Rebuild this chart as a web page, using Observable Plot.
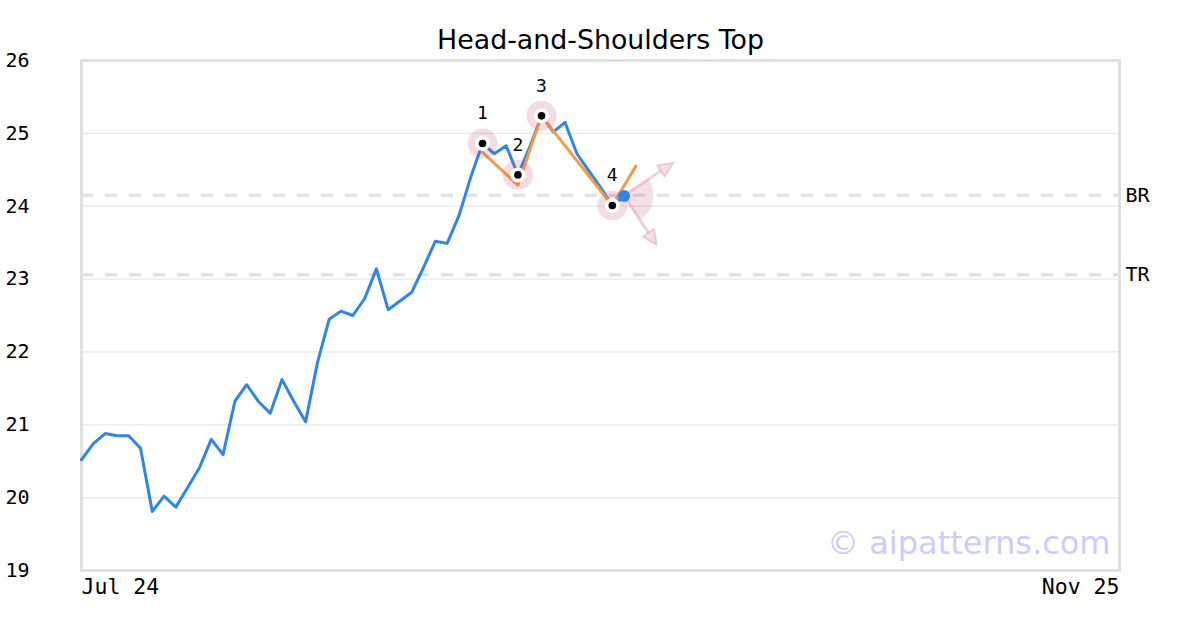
<!DOCTYPE html>
<html><head><meta charset="utf-8">
<script src="https://cdn.jsdelivr.net/npm/d3@7"></script>
<script src="https://cdn.jsdelivr.net/npm/@observablehq/plot@0.6"></script>
<style>body{margin:0;background:#fff;} #chart{width:1200px;height:630px;}</style>
</head><body><div id="chart"></div>
<script>
// ---- data ----
const prices = [20.52, 20.74, 20.88, 20.85, 20.85, 20.68, 19.81, 20.02, 19.87, 20.14,
  20.41, 20.80, 20.59, 21.32, 21.55, 21.32, 21.16, 21.62, 21.32, 21.04,
  21.85, 22.45, 22.56, 22.50, 22.73, 23.14, 22.58, 22.70, 22.82, 23.16,
  23.52, 23.49, 23.87, 24.40, 24.86, 24.72, 24.83, 24.43, 24.81, 25.24,
  25.02, 25.15, 24.72, 24.49, 24.26, 24.01, 24.14];
const pivotIdx = [34, 37, 39, 45];
const pivotLabels = ["1", "2", "3", "4"];
const zigIdx = [34, 37, 39, 45, 47];
const zigVals = [24.74, 24.29, 25.24, 24.01, 24.55];
const levelNames = ["BR", "TR"];
const levelVals = [24.15, 23.06];
const yTicks = [19, 20, 21, 22, 23, 24, 25, 26];
const gridTicks = [20, 21, 22, 23, 24, 25];
const xDomain = [0, 88];
const xTickPos = [0, 88];
const xTickLabels = ["Jul 24", "Nov 25"];
const arrowEndIdx = [50.22, 48.81];
const arrowEndVals = [24.59, 23.46];
const titleText = "Head-and-Shoulders Top";
const watermark = "© aipatterns.com";

// ---- derived tables ----
const series = prices.map((v, i) => ({i, v}));
const pivots = pivotIdx.map((i, k) => ({i, v: prices[i], label: pivotLabels[k]}));
const zig = zigIdx.map((i, k) => ({i, v: zigVals[k]}));
const last = series[series.length - 1];
const arrowEnds = arrowEndIdx.map((i, k) => ({i, v: arrowEndVals[k]}));

const PINK = "#c8507a";
const MONO = "DejaVu Sans Mono";

function projection(index, scales) {
  const cx = scales.x(last.i), cy = scales.y(last.v);
  const ends = arrowEnds.map(d => [scales.x(d.i), scales.y(d.v)]);
  const angs = ends.map(([x, y]) => Math.atan2(y - cy, x - cx));
  const R = 0.5 * Math.hypot(ends[0][0] - cx, ends[0][1] - cy);
  const g = d3.create("svg:g");
  const a0 = angs[0], a1 = angs[1];
  g.append("path")
    .attr("d", `M${cx},${cy}L${cx + R * Math.cos(a0)},${cy + R * Math.sin(a0)}A${R},${R} 0 0 1 ${cx + R * Math.cos(a1)},${cy + R * Math.sin(a1)}Z`)
    .attr("fill", PINK).attr("fill-opacity", 0.18);
  for (const [x, y] of ends) {
    const a = Math.atan2(y - cy, x - cx);
    const L = 15, W = 7;
    const bx = x - L * Math.cos(a), by = y - L * Math.sin(a);
    g.append("line").attr("x1", cx).attr("y1", cy).attr("x2", bx).attr("y2", by)
      .attr("stroke", PINK).attr("stroke-opacity", 0.25).attr("stroke-width", 3);
    const px = -Math.sin(a) * W, py = Math.cos(a) * W;
    g.append("path")
      .attr("d", `M${x},${y}L${bx + px},${by + py}L${bx - px},${by - py}Z`)
      .attr("fill", PINK).attr("fill-opacity", 0.18)
      .attr("stroke", PINK).attr("stroke-opacity", 0.22).attr("stroke-width", 2)
      .attr("stroke-linejoin", "round");
  }
  return g.node();
}

const plot = Plot.plot({
  width: 1200, height: 630,
  marginTop: 60, marginBottom: 60, marginLeft: 81, marginRight: 81,
  x: {domain: xDomain, axis: null},
  y: {domain: [19, 26], axis: null},
  style: {background: "#fff", fontFamily: MONO},
  marks: [
    Plot.ruleY(gridTicks, {stroke: "#e8e8e8", strokeWidth: 1.2}),
    Plot.ruleY(levelVals, {stroke: "#e0e0e0", strokeWidth: 3, strokeDasharray: "12,12"}),
    Plot.frame({stroke: "#e0e0e0", strokeWidth: 3}),
    Plot.line(series, {x: "i", y: "v", stroke: "#2e86e6", strokeWidth: 3}),
    Plot.line(zig, {x: "i", y: "v", stroke: "#f59b45", strokeWidth: 3}),
    projection,
    Plot.dot(pivots, {x: "i", y: "v", r: 15, fill: PINK, fillOpacity: 0.2}),
    Plot.dot(pivots, {x: "i", y: "v", r: 7.5, fill: "white"}),
    Plot.dot(pivots, {x: "i", y: "v", r: 3.8, fill: "black"}),
    Plot.dot([last], {x: "i", y: "v", r: 6, fill: "#2e86e6"}),
    Plot.text(pivots, {x: "i", y: "v", text: "label", dy: -30, fontSize: 18, fontFamily: MONO, fill: "black"}),
    Plot.text(yTicks, {y: d => d, text: d => String(d), frameAnchor: "left", dx: -76, textAnchor: "start", fontSize: 20, fontFamily: MONO, fill: "black"}),
    Plot.text([xTickPos[0]], {x: d => d, text: () => xTickLabels[0], frameAnchor: "bottom", lineAnchor: "middle", dy: 17, textAnchor: "start", fontSize: 21.5, fontFamily: MONO, fill: "black"}),
    Plot.text([xTickPos[1]], {x: d => d, text: () => xTickLabels[1], frameAnchor: "bottom", lineAnchor: "middle", dy: 17, textAnchor: "end", fontSize: 21.5, fontFamily: MONO, fill: "black"}),
    Plot.text(levelVals, {y: d => d, text: (d, i) => levelNames[i], frameAnchor: "right", dx: 6, textAnchor: "start", fontSize: 20, fontFamily: MONO, fill: "black"}),
    Plot.text([titleText], {text: d => d, frameAnchor: "top", lineAnchor: "middle", dy: -20, fontSize: 26.8, fontFamily: "DejaVu Sans", fill: "black"}),
    Plot.text([watermark], {text: d => d, frameAnchor: "bottom-right", lineAnchor: "middle", dx: -9, dy: -27, textAnchor: "end", fontSize: 32, fontFamily: "DejaVu Sans", fill: "#ccccff"})
  ]
});
document.getElementById("chart").appendChild(plot);
</script>
</body></html>
